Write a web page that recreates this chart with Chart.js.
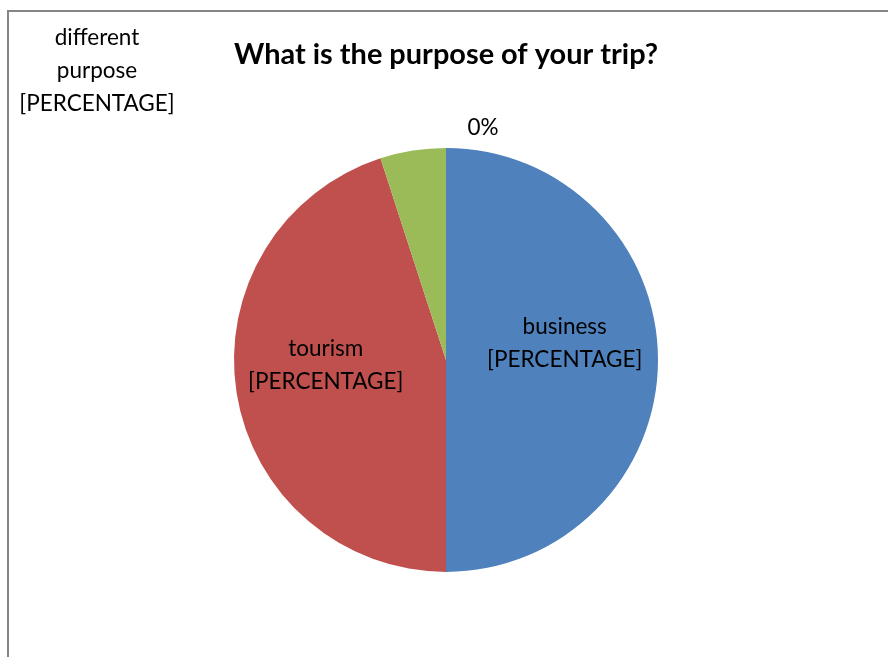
<!DOCTYPE html>
<html>
<head>
<meta charset="utf-8">
<script src="https://cdn.jsdelivr.net/npm/chart.js@4.4.0/dist/chart.umd.min.js"></script>
<style>
    body { margin: 0; background: #fff; }
    #frame {
        position: absolute; left: 7px; top: 10px;
        width: 900px; height: 700px;
        border-left: 2px solid #868686; border-top: 2px solid #868686;
    }
    #wrap { position: absolute; left: 0; top: 0; width: 888px; height: 657px; }
</style>
</head>
<body>
<div id="frame"></div>
<div id="wrap"><canvas id="pieChart"></canvas></div>
<script>
// categories and values of the pie
const categories = ['business', 'tourism', 'different purpose', ''];
const shares = [50, 45, 5, 0];

// label text shown for each slice (Excel left the field code in)
const sliceLabels = [
    ['business', '[PERCENTAGE]'],
    ['tourism', '[PERCENTAGE]'],
    ['different', 'purpose', '[PERCENTAGE]'],
    ['0%']
];

const sliceColors = ['#4f81bd', '#c0504d', '#9bbb59', '#8064a2'];

// draws the slice labels, placed the way they sit in the original
const labelPlugin = {
    id: 'sliceLabels',
    afterDatasetsDraw (chart) {
        const ctx = chart.ctx;
        const arcs = chart.getDatasetMeta(0).data;
        ctx.save();
        ctx.font = '22.5px Lato';
        ctx.fillStyle = '#000';
        ctx.textAlign = 'center';
        ctx.textBaseline = 'middle';
        const lineH = 33;

        arcs.forEach(function (arc, i) {
            const mid = (arc.startAngle + arc.endAngle) / 2;
            const r = arc.outerRadius;
            let x, y;
            if (i === 2) {
                // label dragged to the top left corner
                x = 97; y = 71;
            } else if (shares[i] === 0) {
                // outside end for the empty slice
                x = arc.x + Math.cos(mid) * r + 37;
                y = arc.y + Math.sin(mid) * r - 20;
            } else {
                x = arc.x + Math.cos(mid) * r * 0.56;
                y = arc.y + Math.sin(mid) * r * 0.56 - (i === 0 ? 17 : 13);
                if (i === 1) x -= 3;
            }
            const lines = sliceLabels[i];
            const top = y - (lines.length - 1) * lineH / 2;
            lines.forEach(function (t, k) {
                ctx.fillText(t, x, top + k * lineH);
            });
        });
        ctx.restore();
    }
};

const config = {
    type: 'pie',
    data: {
        labels: categories,
        datasets: [{
            data: shares,
            backgroundColor: sliceColors,
            borderWidth: 0
        }]
    },
    options: {
        responsive: true,
        maintainAspectRatio: false,
        animation: false,
        layout: {
            padding: { left: 234, right: 230, top: 0, bottom: 85 }
        },
        plugins: {
            legend: { display: false },
            tooltip: { enabled: false },
            title: {
                display: true,
                text: 'What is the purpose of your trip?',
                color: '#000',
                font: { family: 'Lato', size: 29, weight: 'bold' },
                padding: { top: 37, bottom: 76 }
            }
        }
    },
    plugins: [labelPlugin]
};

const myChart = new Chart(document.getElementById('pieChart'), config);
</script>
</body>
</html>
